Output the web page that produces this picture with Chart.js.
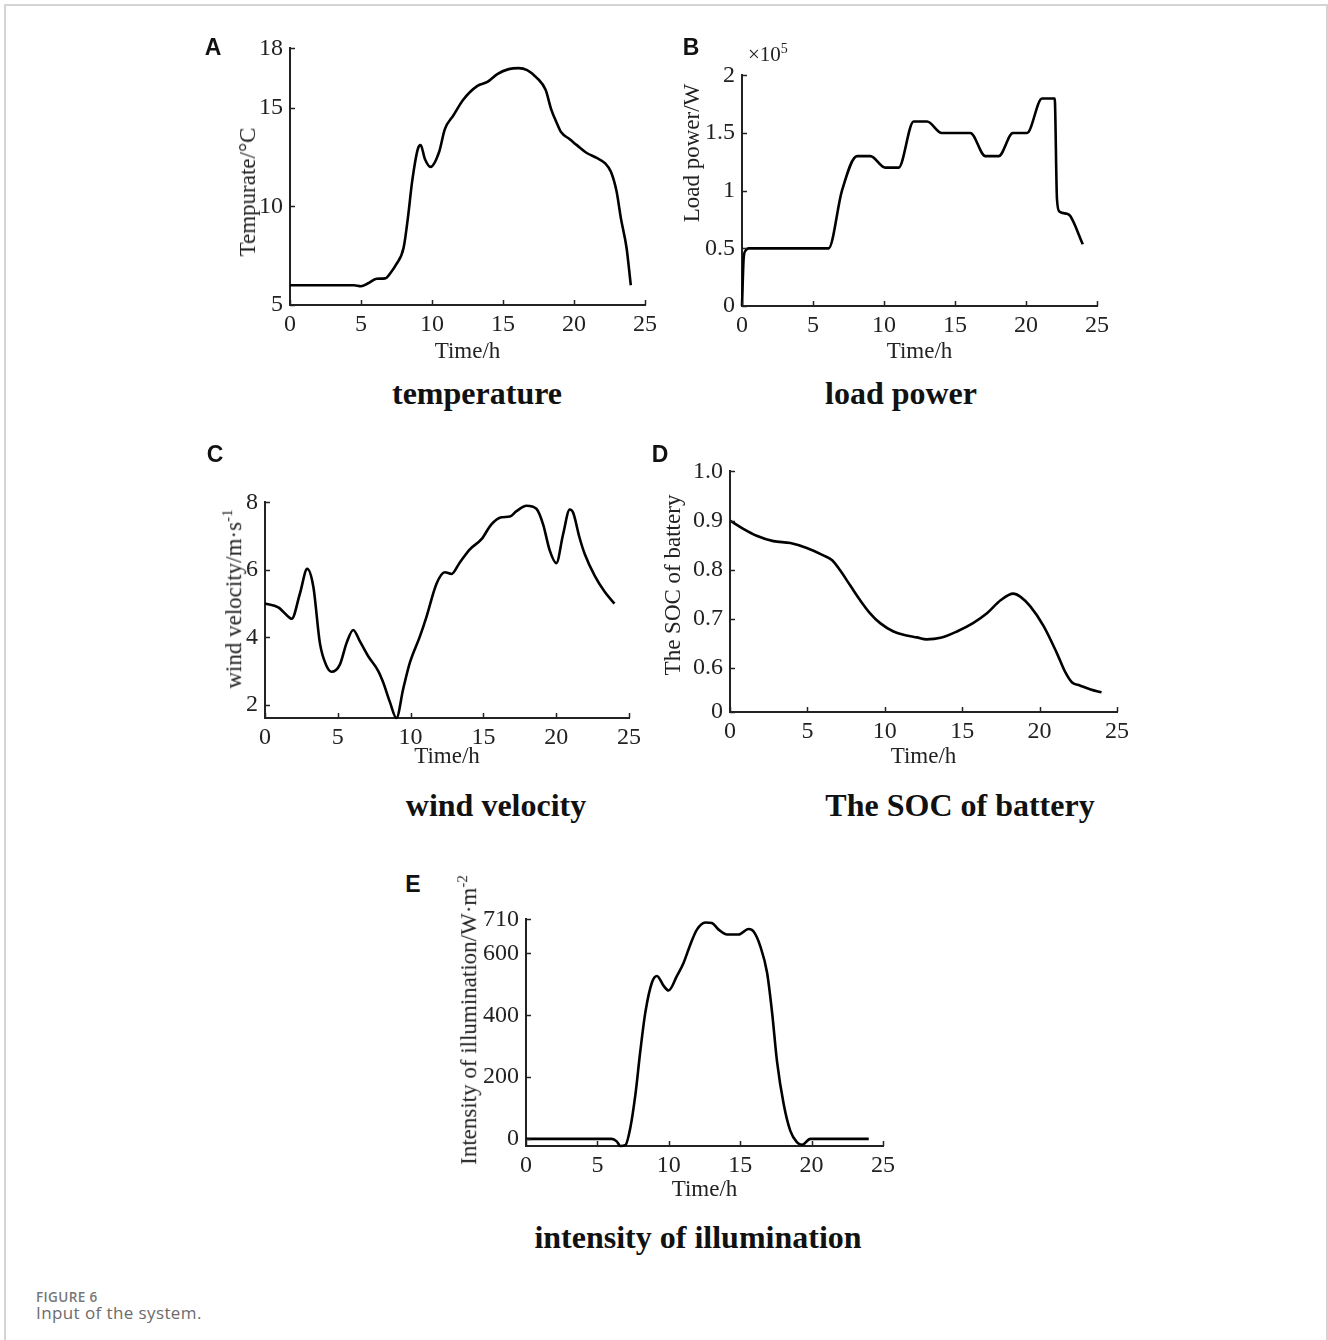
<!DOCTYPE html>
<html>
<head>
<meta charset="utf-8">
<script src="https://cdn.jsdelivr.net/npm/chart.js@4.4.1/dist/chart.umd.min.js"></script>
<style>
  html, body { margin: 0; padding: 0; background: #fff; }
  body { width: 1328px; height: 1340px; position: relative; overflow: hidden; }
  .frame { position: absolute; left: 4px; top: 4px; width: 1324px; height: 1400px; box-sizing: border-box;
           border: 2px solid #d4d4d4; border-bottom: none; }
  canvas { position: absolute; }
  .ytitle { position: absolute; transform: translate(-50%, -50%) rotate(-90deg); white-space: nowrap;
            font-family: 'Times New Roman', 'Liberation Serif', serif; font-size: 23px; color: #222; }
  .ytitle sup { font-size: 15px; }
  .ptitle { position: absolute; transform: translate(-50%, -50%); white-space: nowrap;
            font-family: 'Times New Roman', 'Liberation Serif', serif; font-weight: bold; font-size: 32px; color: #111; }
  .letter { position: absolute; transform: translate(-50%, -50%); font-family: Arial, 'Liberation Sans', sans-serif;
            font-weight: bold; font-size: 23px; color: #111; }
  .mult { position: absolute; font-family: 'Times New Roman', 'Liberation Serif', serif; font-size: 21px; color: #222; transform: translateY(-50%); }
  .mult sup { font-size: 14px; }
  .cap1 { position: absolute; left: 36px; top: 1289px; line-height: 16px; font-family: 'Open Sans', sans-serif; font-weight: 600; font-size: 13.5px; letter-spacing: 0.4px; color: #777; }
  .cap2 { position: absolute; left: 36px; top: 1302px; line-height: 22px; font-family: 'Open Sans', sans-serif; font-size: 17px; letter-spacing: 0.4px; color: #6b6b6b; }
</style>
</head>
<body>
<div class="frame"></div>

<canvas id="cA"></canvas>
<canvas id="cB"></canvas>
<canvas id="cC"></canvas>
<canvas id="cD"></canvas>
<canvas id="cE"></canvas>

<div class="letter" style="left:213px; top:47px;">A</div>
<div class="letter" style="left:691px; top:47px;">B</div>
<div class="letter" style="left:215px; top:454px;">C</div>
<div class="letter" style="left:660px; top:454px;">D</div>
<div class="letter" style="left:413px; top:884px;">E</div>

<div class="ytitle" style="left:248px; top:192px;">Tempurate/°C</div>
<div class="ytitle" style="left:692px; top:153px;">Load power/W</div>
<div class="ytitle" style="left:233px; top:599px;">wind velocity/m·s<sup>-1</sup></div>
<div class="ytitle" style="left:673px; top:585px;">The SOC of battery</div>
<div class="ytitle" style="left:468px; top:1020px;">Intensity of illumination/W·m<sup>-2</sup></div>

<div class="mult" style="left:748px; top:54px;">×10<sup>5</sup></div>

<div class="ptitle" style="left:477px; top:393px;">temperature</div>
<div class="ptitle" style="left:901px; top:393px;">load power</div>
<div class="ptitle" style="left:496px; top:805px;">wind velocity</div>
<div class="ptitle" style="left:960px; top:805px;">The SOC of battery</div>
<div class="ptitle" style="left:698px; top:1237px;">intensity of illumination</div>

<div class="cap1">FIGURE 6</div>
<div class="cap2">Input of the system.</div>

<script>
// ---------------- DATA ----------------
const xTicks = [0, 5, 10, 15, 20, 25];

// A: temperature (°C)
const tempHours  = [0, 2, 4.5, 5, 5.5, 6.1, 6.7, 7.1, 7.5, 8.0, 8.3, 8.6, 9.0, 9.2, 9.5, 9.9, 10.5, 10.9, 11.5, 12.2, 13.2, 13.9, 14.6, 15.4, 16.1, 16.7, 17.4, 18.0, 18.4, 18.8, 19.1, 19.7, 20.2, 20.9, 21.6, 22.2, 22.6, 23.0, 23.3, 23.7, 24.0];
const tempValues = [6.0, 6.0, 6.0, 5.95, 6.1, 6.33, 6.35, 6.65, 7.08, 7.9, 9.4, 11.25, 12.9, 13.1, 12.4, 12.0, 12.75, 13.9, 14.6, 15.4, 16.1, 16.3, 16.7, 16.95, 17.0, 16.9, 16.5, 15.9, 14.9, 14.2, 13.75, 13.4, 13.1, 12.7, 12.45, 12.17, 11.75, 10.75, 9.4, 7.9, 6.0];
const tempTicks  = [5, 10, 15, 18];

// B: load power (W)
const loadHours  = [0, 0.12, 0.25, 0.45, 6.1, 7.04, 8.1, 9.04, 10.09, 11.03, 12.09, 13.03, 14.08, 16.08, 17.14, 18.08, 19.08, 20.07, 21.13, 22.02, 22.18, 22.35, 22.89, 23.12, 24.0];
const loadValues = [0, 42000, 48000, 50000, 50000, 100000, 130000, 130000, 120000, 120000, 160000, 160000, 150000, 150000, 130000, 130000, 150000, 150000, 180000, 180000, 93000, 82000, 80000, 78000, 53500];
const loadTicks  = [0, 50000, 100000, 150000, 200000];

// C: wind velocity (m/s)
const windHours  = [0, 0.91, 1.72, 1.83, 2.4, 2.9, 3.32, 3.77, 4.23, 4.57, 5.15, 5.6, 6.06, 6.52, 7.09, 7.78, 8.12, 8.58, 9.03, 9.49, 9.95, 10.64, 11.09, 11.78, 12.35, 12.81, 13.38, 14.07, 14.87, 15.55, 16.24, 16.81, 17.27, 17.96, 18.64, 19.1, 19.56, 20.01, 20.47, 20.93, 21.16, 21.6, 21.96, 22.64, 23.33, 24.0];
const windValues = [5.0, 4.89, 4.57, 4.55, 5.3, 6.03, 5.5, 3.83, 3.15, 2.98, 3.2, 3.83, 4.22, 3.88, 3.44, 3.0, 2.66, 2.08, 1.61, 2.47, 3.25, 4.03, 4.61, 5.59, 5.93, 5.88, 6.22, 6.61, 6.91, 7.35, 7.56, 7.58, 7.74, 7.9, 7.81, 7.35, 6.57, 6.2, 7.05, 7.79, 7.7, 6.96, 6.47, 5.83, 5.35, 5.0];
const windTicks  = [2, 4, 6, 8];

// D: SOC of battery
const socHours  = [0, 0.86, 1.72, 2.8, 3.9, 4.96, 6.03, 6.6, 7.1, 7.76, 8.4, 9.05, 9.7, 10.56, 11.4, 12.07, 12.7, 13.6, 14.66, 15.7, 16.6, 17.5, 18.3, 18.75, 19.4, 20.26, 21.1, 21.66, 22.1, 22.6, 23.3, 24.0];
const socValues = [0.9, 0.883, 0.869, 0.858, 0.854, 0.844, 0.829, 0.819, 0.799, 0.768, 0.738, 0.711, 0.691, 0.674, 0.666, 0.662, 0.658, 0.661, 0.674, 0.691, 0.711, 0.738, 0.751, 0.745, 0.725, 0.685, 0.631, 0.591, 0.570, 0.564, 0.556, 0.550];
const socTicks  = [0.51, 0.6, 0.7, 0.8, 0.9, 1.0];

// E: intensity of illumination (W/m^2)
const illumHours  = [0, 6.0, 6.35, 6.61, 6.96, 7.31, 7.66, 8.0, 8.36, 8.82, 9.17, 9.64, 9.99, 10.57, 11.04, 11.51, 11.97, 12.56, 13.02, 13.49, 14.08, 14.89, 15.59, 15.94, 16.41, 16.88, 17.23, 17.58, 18.05, 18.51, 18.98, 19.33, 19.91, 24.0];
const illumValues = [0, 0, -8, -23, -20, 37, 143, 282, 410, 506, 527, 495, 480, 527, 570, 629, 677, 700, 698, 677, 661, 661, 679, 671, 623, 538, 410, 250, 111, 26, -11, -19, 0, 0];
const illumTicks  = [0, 200, 400, 600, 710];

// ---------------- DRAWING ----------------
const AXIS = '#222';
const SERIF = "'Times New Roman', 'Liberation Serif', serif";

const inwardTicks = {
  id: 'inwardTicks',
  afterDraw(chart) {
    const { ctx, chartArea: a } = chart;
    const xs = chart.scales.x, ys = chart.scales.y;
    ctx.save();
    ctx.strokeStyle = AXIS;
    ctx.lineWidth = 1.5;
    xs.ticks.forEach(t => {
      const p = Math.round(xs.getPixelForValue(t.value)) + 0.5;
      ctx.beginPath(); ctx.moveTo(p, a.bottom); ctx.lineTo(p, a.bottom - 5); ctx.stroke();
    });
    ys.ticks.forEach(t => {
      const p = Math.round(ys.getPixelForValue(t.value)) + 0.5;
      ctx.beginPath(); ctx.moveTo(a.left, p); ctx.lineTo(a.left + 5, p); ctx.stroke();
    });
    ctx.restore();
  }
};

function panel(id, o) {
  const padL = 80, padT = 18, padR = 26;
  const plotW = o.right - o.left, plotH = o.bottom - o.top;
  const c = document.getElementById(id);
  c.width = padL + plotW + padR;
  c.height = padT + plotH + o.padB;
  c.style.left = (o.left - padL) + 'px';
  c.style.top = (o.top - padT) + 'px';
  const pts = o.hours.map((h, i) => ({ x: h, y: o.values[i] }));
  return new Chart(c, {
    type: 'line',
    data: { datasets: [{ data: pts, borderColor: '#000', borderWidth: 2.6, pointRadius: 0,
                         cubicInterpolationMode: 'monotone', fill: false, clip: 6 }] },
    options: {
      responsive: false, animation: false, devicePixelRatio: 1,
      layout: { padding: { left: 0, top: padT, right: padR, bottom: 0 } },
      plugins: { legend: { display: false }, tooltip: { enabled: false } },
      scales: {
        x: {
          type: 'linear', min: 0, max: 25,
          afterBuildTicks: s => { s.ticks = xTicks.map(v => ({ value: v })); },
          afterFit: s => { s.height = o.padB; },
          grid: { display: true, drawOnChartArea: false, drawTicks: false, color: 'rgba(0,0,0,0)' },
          border: { display: true, color: AXIS, width: 2 },
          ticks: { color: '#222', padding: 5, maxRotation: 0, font: { family: SERIF, size: 24 } },
          title: { display: true, text: 'Time/h', color: '#222', padding: { top: 0, bottom: 0 },
                   font: { family: SERIF, size: 23, lineHeight: 1.2 } }
        },
        y: {
          type: 'linear', min: o.ymin, max: o.ymax,
          afterBuildTicks: s => { s.ticks = o.yTicks.map(v => ({ value: v })); },
          afterFit: s => { s.width = padL; },
          grid: { display: true, drawOnChartArea: false, drawTicks: false, color: 'rgba(0,0,0,0)' },
          border: { display: true, color: AXIS, width: 2 },
          ticks: { color: '#222', padding: 7, font: { family: SERIF, size: 24 }, callback: o.fmt }
        }
      }
    },
    plugins: [inwardTicks]
  });
}

panel('cA', { left: 290, top: 45, right: 645, bottom: 305, padB: 61,
  hours: tempHours, values: tempValues, ymin: 5, ymax: 18, yTicks: tempTicks, fmt: v => String(v) });

panel('cB', { left: 742, top: 72, right: 1097, bottom: 306, padB: 60,
  hours: loadHours, values: loadValues, ymin: 0, ymax: 200000, yTicks: loadTicks, fmt: v => String(v / 100000) });

panel('cC', { left: 265, top: 499, right: 629, bottom: 718, padB: 53,
  hours: windHours, values: windValues, ymin: 1.61, ymax: 8, yTicks: windTicks, fmt: v => String(v) });

panel('cD', { left: 730, top: 468, right: 1117, bottom: 712, padB: 59,
  hours: socHours, values: socValues, ymin: 0.51, ymax: 1.0, yTicks: socTicks,
  fmt: v => (v < 0.55 ? '0' : v.toFixed(1)) });

panel('cE', { left: 526, top: 916, right: 883, bottom: 1146, padB: 58,
  hours: illumHours, values: illumValues, ymin: -23, ymax: 710, yTicks: illumTicks, fmt: v => String(v) });
</script>
</body>
</html>
